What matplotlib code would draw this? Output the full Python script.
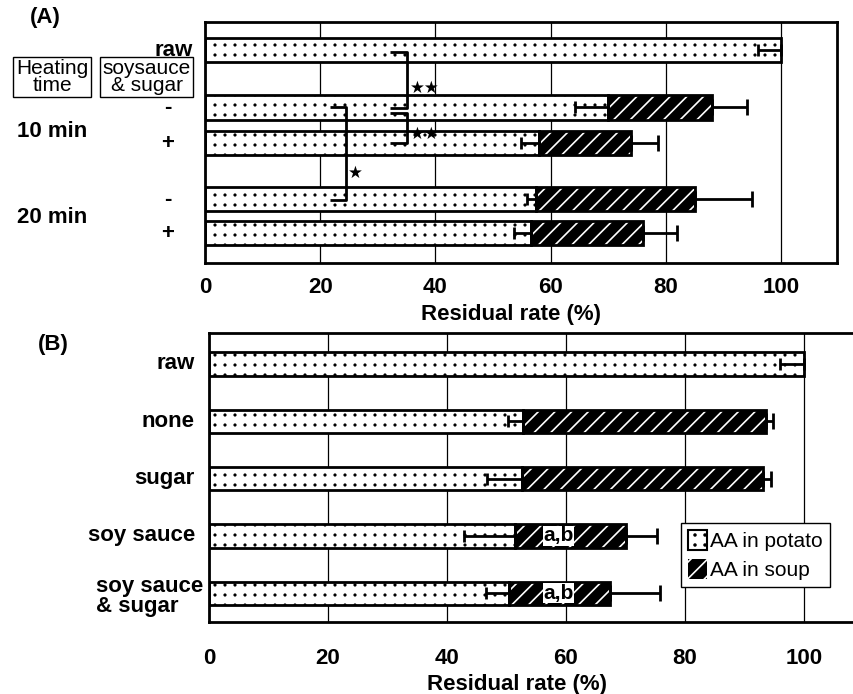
import matplotlib
matplotlib.use("Agg")
import matplotlib.pyplot as plt
import matplotlib.hatch as mhatch
from matplotlib.patches import Patch
from matplotlib.path import Path
import numpy as np

plt.rcParams['font.family'] = ['Liberation Sans', 'DejaVu Sans']

# ---------------- data ----------------
# Panel A: heating time x soy sauce & sugar
a_rows = ["raw", "10 min -", "10 min +", "20 min -", "20 min +"]
a_potato = [100, 70.0, 58.0, 57.5, 56.5]
a_potato_err = [4.0, 5.7, 3.2, 1.6, 2.8]
a_soup = [0, 18.0, 16.0, 27.5, 19.5]
a_total_err = [0, 6.0, 4.7, 10.0, 6.0]

# Panel B: seasoning
b_labels = ["raw", "none", "sugar", "soy sauce", "soy sauce\n& sugar"]
b_potato = [100, 52.8, 52.6, 51.4, 50.4]
b_potato_err = [4.0, 2.5, 5.9, 8.5, 3.8]
b_soup = [0, 40.8, 40.5, 18.7, 17.0]
b_total_err = [0, 1.2, 1.3, 5.2, 8.4]
b_letters = ["", "", "", "a,b", "a,b"]

ticks = [0, 20, 40, 60, 80, 100]
xlabel = "Residual rate (%)"
legend_labels = ["AA in potato", "AA in soup"]


# '.' hatch: filled dots on a square lattice (10 per inch)
class GridDots(mhatch.HatchPatternBase):
    n = 10
    radius = 0.09

    def __init__(self, hatch, density):
        circ = Path.unit_circle()
        self._v = circ.vertices
        self._c = circ.codes
        self.num_vertices = self.n * self.n * len(self._v) if '.' in hatch else 0

    def set_vertices_and_codes(self, vertices, codes):
        k = len(self._v)
        step = 1.0 / self.n
        i = 0
        for r in range(self.n):
            for c in range(self.n):
                vertices[i:i + k] = (self._v * step * self.radius
                                     + [(c + 0.5) * step, (r + 0.5) * step])
                codes[i:i + k] = self._c
                i += k


mhatch._hatch_types = [t for t in mhatch._hatch_types
                       if t is not mhatch.SmallFilledCircles] + [GridDots]

BOLD = dict(fontweight='bold', fontsize=16)
STAR = dict(family='DejaVu Sans', fontsize=12, color='black')

fig = plt.figure(figsize=(8.54, 6.94), dpi=100)
W, H = 854, 694


def axes_rect(l, t, r, b):
    return [l / W, 1 - b / H, (r - l) / W, (b - t) / H]


def draw_bars(ax, ypos, potato, perr, soup, terr, height):
    ypos = np.asarray(ypos, float)
    potato = np.asarray(potato, float)
    soup = np.asarray(soup, float)
    # potato part: white with dots
    plt.rcParams['hatch.linewidth'] = 1.0
    ax.barh(ypos, potato, height=height, color='white', edgecolor='black',
            hatch='.', linewidth=2, zorder=2)
    # soup part: black with white stripes
    plt.rcParams['hatch.linewidth'] = 1.2
    has = soup > 0
    ax.barh(ypos[has], soup[has], left=potato[has], height=height,
            facecolor='black', edgecolor='white', hatch='//', linewidth=0,
            zorder=2)
    ax.barh(ypos[has], soup[has], left=potato[has], height=height,
            fill=False, edgecolor='black', linewidth=2, zorder=3)
    # potato error bars (drawn to the left, inside the bar)
    pe = np.asarray(perr, float)
    ax.errorbar(potato, ypos, xerr=[pe, np.zeros_like(pe)], fmt='none',
                ecolor='black', elinewidth=2, capsize=4, capthick=2, zorder=4)
    # total error bars (to the right)
    te = np.asarray(terr, float)
    tot = potato + soup
    ax.errorbar(tot[has], ypos[has], xerr=[np.zeros(has.sum()), te[has]],
                fmt='none', ecolor='black', elinewidth=2, capsize=6,
                capthick=2, zorder=4)


def style_axes(ax, xmax, pad, right_spine=True):
    ax.set_xlim(0, xmax)
    ax.set_xticks(ticks)
    ax.set_xticklabels([str(t) for t in ticks], **BOLD)
    ax.tick_params(axis='x', length=0, pad=pad)
    ax.set_yticks([])
    ax.set_axisbelow(True)
    ax.xaxis.grid(True, color='black', linewidth=0.9)
    for s in ax.spines.values():
        s.set_linewidth(2)
    ax.spines['right'].set_visible(right_spine)


# ---------------- panel A ----------------
axA = fig.add_axes(axes_rect(205, 22, 837, 263))
a_y = [0, 1.6, 2.6, 4.15, 5.1]
draw_bars(axA, a_y, a_potato, a_potato_err, a_soup, a_total_err, 0.67)
axA.set_ylim(5.93, -0.78)
style_axes(axA, 109.7, 10)
axA.set_xlabel(xlabel, **BOLD)
axA.xaxis.set_label_coords(0.484, -0.17)

tA = axA.get_yaxis_transform()
axA.text(-0.019, a_y[0], "raw", transform=tA, ha='right', va='center', **BOLD)
for yv, s in zip(a_y[1:], ["-", "+", "-", "+"]):
    axA.text(-0.059, yv, s, transform=tA, ha='center', va='center', **BOLD)
axA.text(-0.297, 2.28, "10 min", transform=tA, ha='left', va='center', **BOLD)
axA.text(-0.297, 4.65, "20 min", transform=tA, ha='left', va='center', **BOLD)
box = dict(boxstyle='square,pad=0.12', facecolor='white', edgecolor='black',
           linewidth=1)
axA.text(-0.242, 0.75, "Heating\ntime", transform=tA, ha='center',
         va='center', fontsize=15, linespacing=0.85, bbox=box)
axA.text(-0.092, 0.75, "soysauce\n& sugar", transform=tA, ha='center',
         va='center', fontsize=15, linespacing=0.85, bbox=box)

# significance brackets with star marks
br = dict(color='black', linewidth=2, zorder=5, solid_capstyle='butt')
axA.plot([32.1, 35.1, 35.1, 32.1], [0.06, 0.06, 1.62, 1.62], **br)
axA.plot([32.1, 35.1, 35.1, 32.1], [1.75, 1.75, 2.6, 2.6], **br)
axA.plot([21.7, 24.5, 24.5, 21.7], [1.6, 1.6, 4.18, 4.18], **br)
axA.text(35.6, 1.06, "\u2605\u2605", ha='left', va='center', zorder=6, **STAR)
axA.text(35.5, 2.33, "\u2605\u2605", ha='left', va='center', zorder=6, **STAR)
axA.text(26.1, 3.42, "\u2605", ha='center', va='center', zorder=6, **STAR)

fig.text(45 / W, 1 - 18 / H, "(A)", ha='center', va='center', **BOLD)

# ---------------- panel B ----------------
axB = fig.add_axes(axes_rect(209, 333, 852, 622))
b_y = np.arange(len(b_labels))
draw_bars(axB, b_y, b_potato, b_potato_err, b_soup, b_total_err, 0.41)
axB.set_ylim(4.50, -0.54)
style_axes(axB, 108.1, 19, right_spine=False)
axB.set_xlabel(xlabel, **BOLD)
axB.xaxis.set_label_coords(0.479, -0.18)

tB = axB.get_yaxis_transform()
for yv, s in zip(b_y, b_labels):
    if "\n" in s:
        axB.text(-0.009, yv + 0.05, s, transform=tB, ha='right', va='center',
                 multialignment='left', linespacing=0.95, **BOLD)
    else:
        axB.text(-0.022, yv, s, transform=tB, ha='right', va='center', **BOLD)

for yv, lab in zip(b_y, b_letters):
    if lab:
        axB.text(58.8, yv, lab, ha='center', va='center', zorder=6,
                 fontsize=15, fontweight='bold',
                 bbox=dict(boxstyle='square,pad=0.02', facecolor='white',
                           edgecolor='none'))

fig.text(53 / W, 1 - 345 / H, "(B)", ha='center', va='center', **BOLD)

plt.rcParams['hatch.linewidth'] = 1.0
h_pot = Patch(facecolor='white', edgecolor='black', hatch='.', linewidth=1.5)
plt.rcParams['hatch.linewidth'] = 1.2
h_soup = Patch(facecolor='black', edgecolor='white', hatch='//', linewidth=0)
leg = axB.legend([h_pot, h_soup], legend_labels, loc='upper left',
                 bbox_to_anchor=(681 / W, 1 - 523 / H),
                 bbox_transform=fig.transFigure, borderaxespad=0,
                 fancybox=False, framealpha=1, edgecolor='black',
                 fontsize=15, handlelength=0.9, handleheight=1.1,
                 handletextpad=0.15, borderpad=0.35, labelspacing=0.35)
leg.get_frame().set_linewidth(1)

fig.savefig("out.png", dpi=100)
